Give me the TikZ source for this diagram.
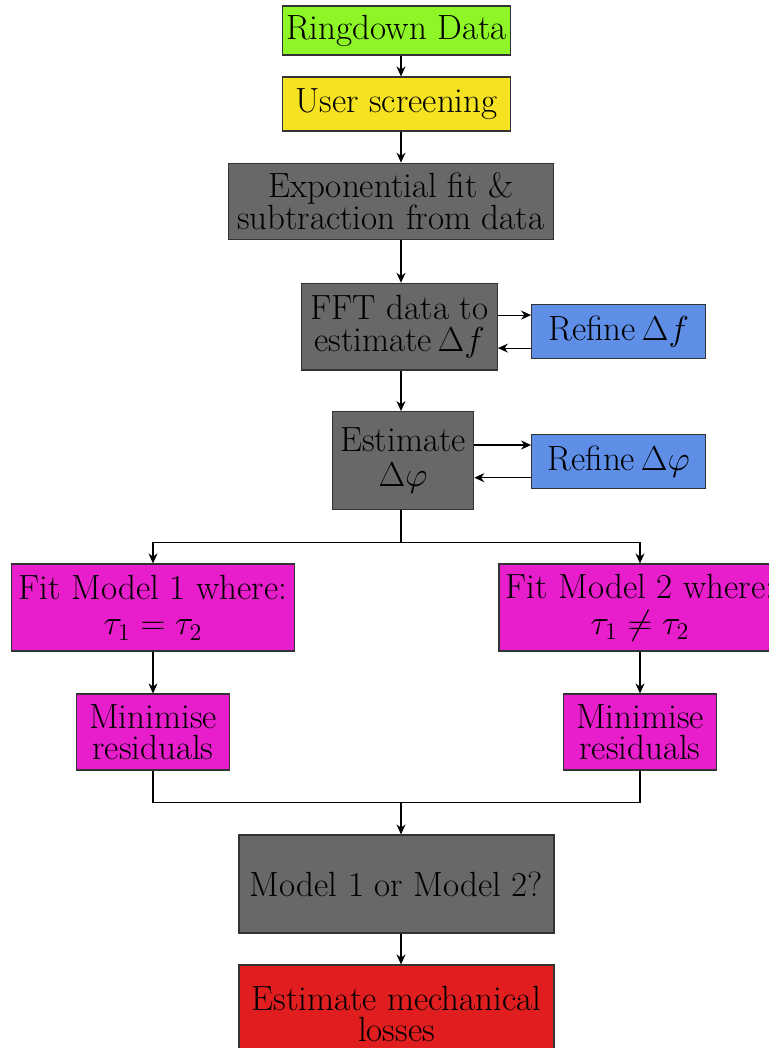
\documentclass[tikz,border=0pt]{standalone}
\usetikzlibrary{arrows.meta}
\definecolor{datagreen}{RGB}{142,245,38}
\definecolor{screenyellow}{RGB}{245,226,32}
\definecolor{stepgray}{RGB}{104,104,104}
\definecolor{refineblue}{RGB}{94,142,230}
\definecolor{fitmagenta}{RGB}{232,30,204}
\definecolor{lossred}{RGB}{224,30,32}
\begin{document}
\begin{tikzpicture}[
  x=0.5pt, y=-0.5pt,
  box/.style={draw=black!80, line width=0.6pt, align=center, inner sep=1pt, font=\fontsize{17.5}{15.8}\selectfont},
  line width=0.6pt,
  >={Stealth[length=5pt,width=4.5pt]}
]
\useasboundingbox (0,0) rectangle (769,1048);
\node[box, fill=datagreen, minimum width=114pt, minimum height=24.5pt] (ringdown) at (396.5,30.5) {Ringdown Data};
\node[box, fill=screenyellow, minimum width=114pt, minimum height=27pt] (user) at (396.5,104) {User screening};
\node[box, fill=stepgray, minimum width=162.5pt, minimum height=38pt] (expfit) at (390.7,201.3) {Exponential fit \& \\subtraction from data};
\node[box, fill=stepgray, minimum width=97.8pt, minimum height=43.3pt] (fft) at (399.5,326.7) {FFT data to\\estimate\,$\Delta f$};
\node[box, fill=refineblue, minimum width=87pt, minimum height=27pt] (refdf) at (618.7,331.3) {Refine\,$\Delta f$};
\node[box, fill=stepgray, minimum width=70.7pt, minimum height=48.8pt] (estphi) at (403,460.5) {Estimate\\[2pt]$\Delta\varphi$};
\node[box, fill=refineblue, minimum width=87pt, minimum height=27.2pt] (refphi) at (618.7,461.5) {Refine\,$\Delta\varphi$};
\node[box, fill=fitmagenta, minimum width=141.5pt, minimum height=43.5pt] (fit1) at (153,607.5) {Fit Model 1 where:\\[2pt]$\tau_1 = \tau_2$};
\node[box, fill=fitmagenta, minimum width=141pt, minimum height=43.5pt] (fit2) at (640,607.5) {Fit Model 2 where:\\[2pt]$\tau_1 \neq \tau_2$};
\node[box, fill=fitmagenta, minimum width=76.5pt, minimum height=38pt] (min1) at (153,732) {Minimise\\residuals};
\node[box, fill=fitmagenta, minimum width=76.5pt, minimum height=38pt] (min2) at (640,732) {Minimise\\residuals};
\node[box, fill=stepgray, minimum width=157.5pt, minimum height=49pt] (which) at (396.5,884) {Model 1 or Model 2?};
\node[box, fill=lossred, minimum width=157.5pt, minimum height=49pt] (losses) at (396.5,1014) {Estimate mechanical\\losses};
% main line down the middle
\coordinate (axis) at (401,0);
\coordinate (split) at (401,542.7);
\coordinate (merge) at (401,802.7);
\draw[->] (ringdown.south -| axis) -- (user.north -| axis);
\draw[->] (user.south -| axis) -- (expfit.north -| axis);
\draw[->] (expfit.south -| axis) -- (fft.north -| axis);
\draw[->] (fft.south -| axis) -- (estphi.north -| axis);
% refinement loops
\draw[->] ([yshift=5.8pt]fft.east) -- ([yshift=5.8pt]fft.east -| refdf.west);
\draw[->] ([yshift=-10.7pt]fft.east -| refdf.west) -- ([yshift=-10.7pt]fft.east);
\draw[->] ([yshift=7.75pt]estphi.east) -- ([yshift=7.75pt]estphi.east -| refphi.west);
\draw[->] ([yshift=-8.6pt]estphi.east -| refphi.west) -- ([yshift=-8.6pt]estphi.east);
% the two models
\draw (estphi.south -| axis) -- (split);
\draw[->] (split) -| (fit1.north);
\draw[->] (split) -| (fit2.north);
\draw[->] (fit1) -- (min1);
\draw[->] (fit2) -- (min2);
\draw (min1.south) |- (merge) -| (min2.south);
\draw[->] (merge) -- (which.north -| merge);
\draw[->] (which.south -| axis) -- (losses.north -| axis);
\end{tikzpicture}
\end{document}
